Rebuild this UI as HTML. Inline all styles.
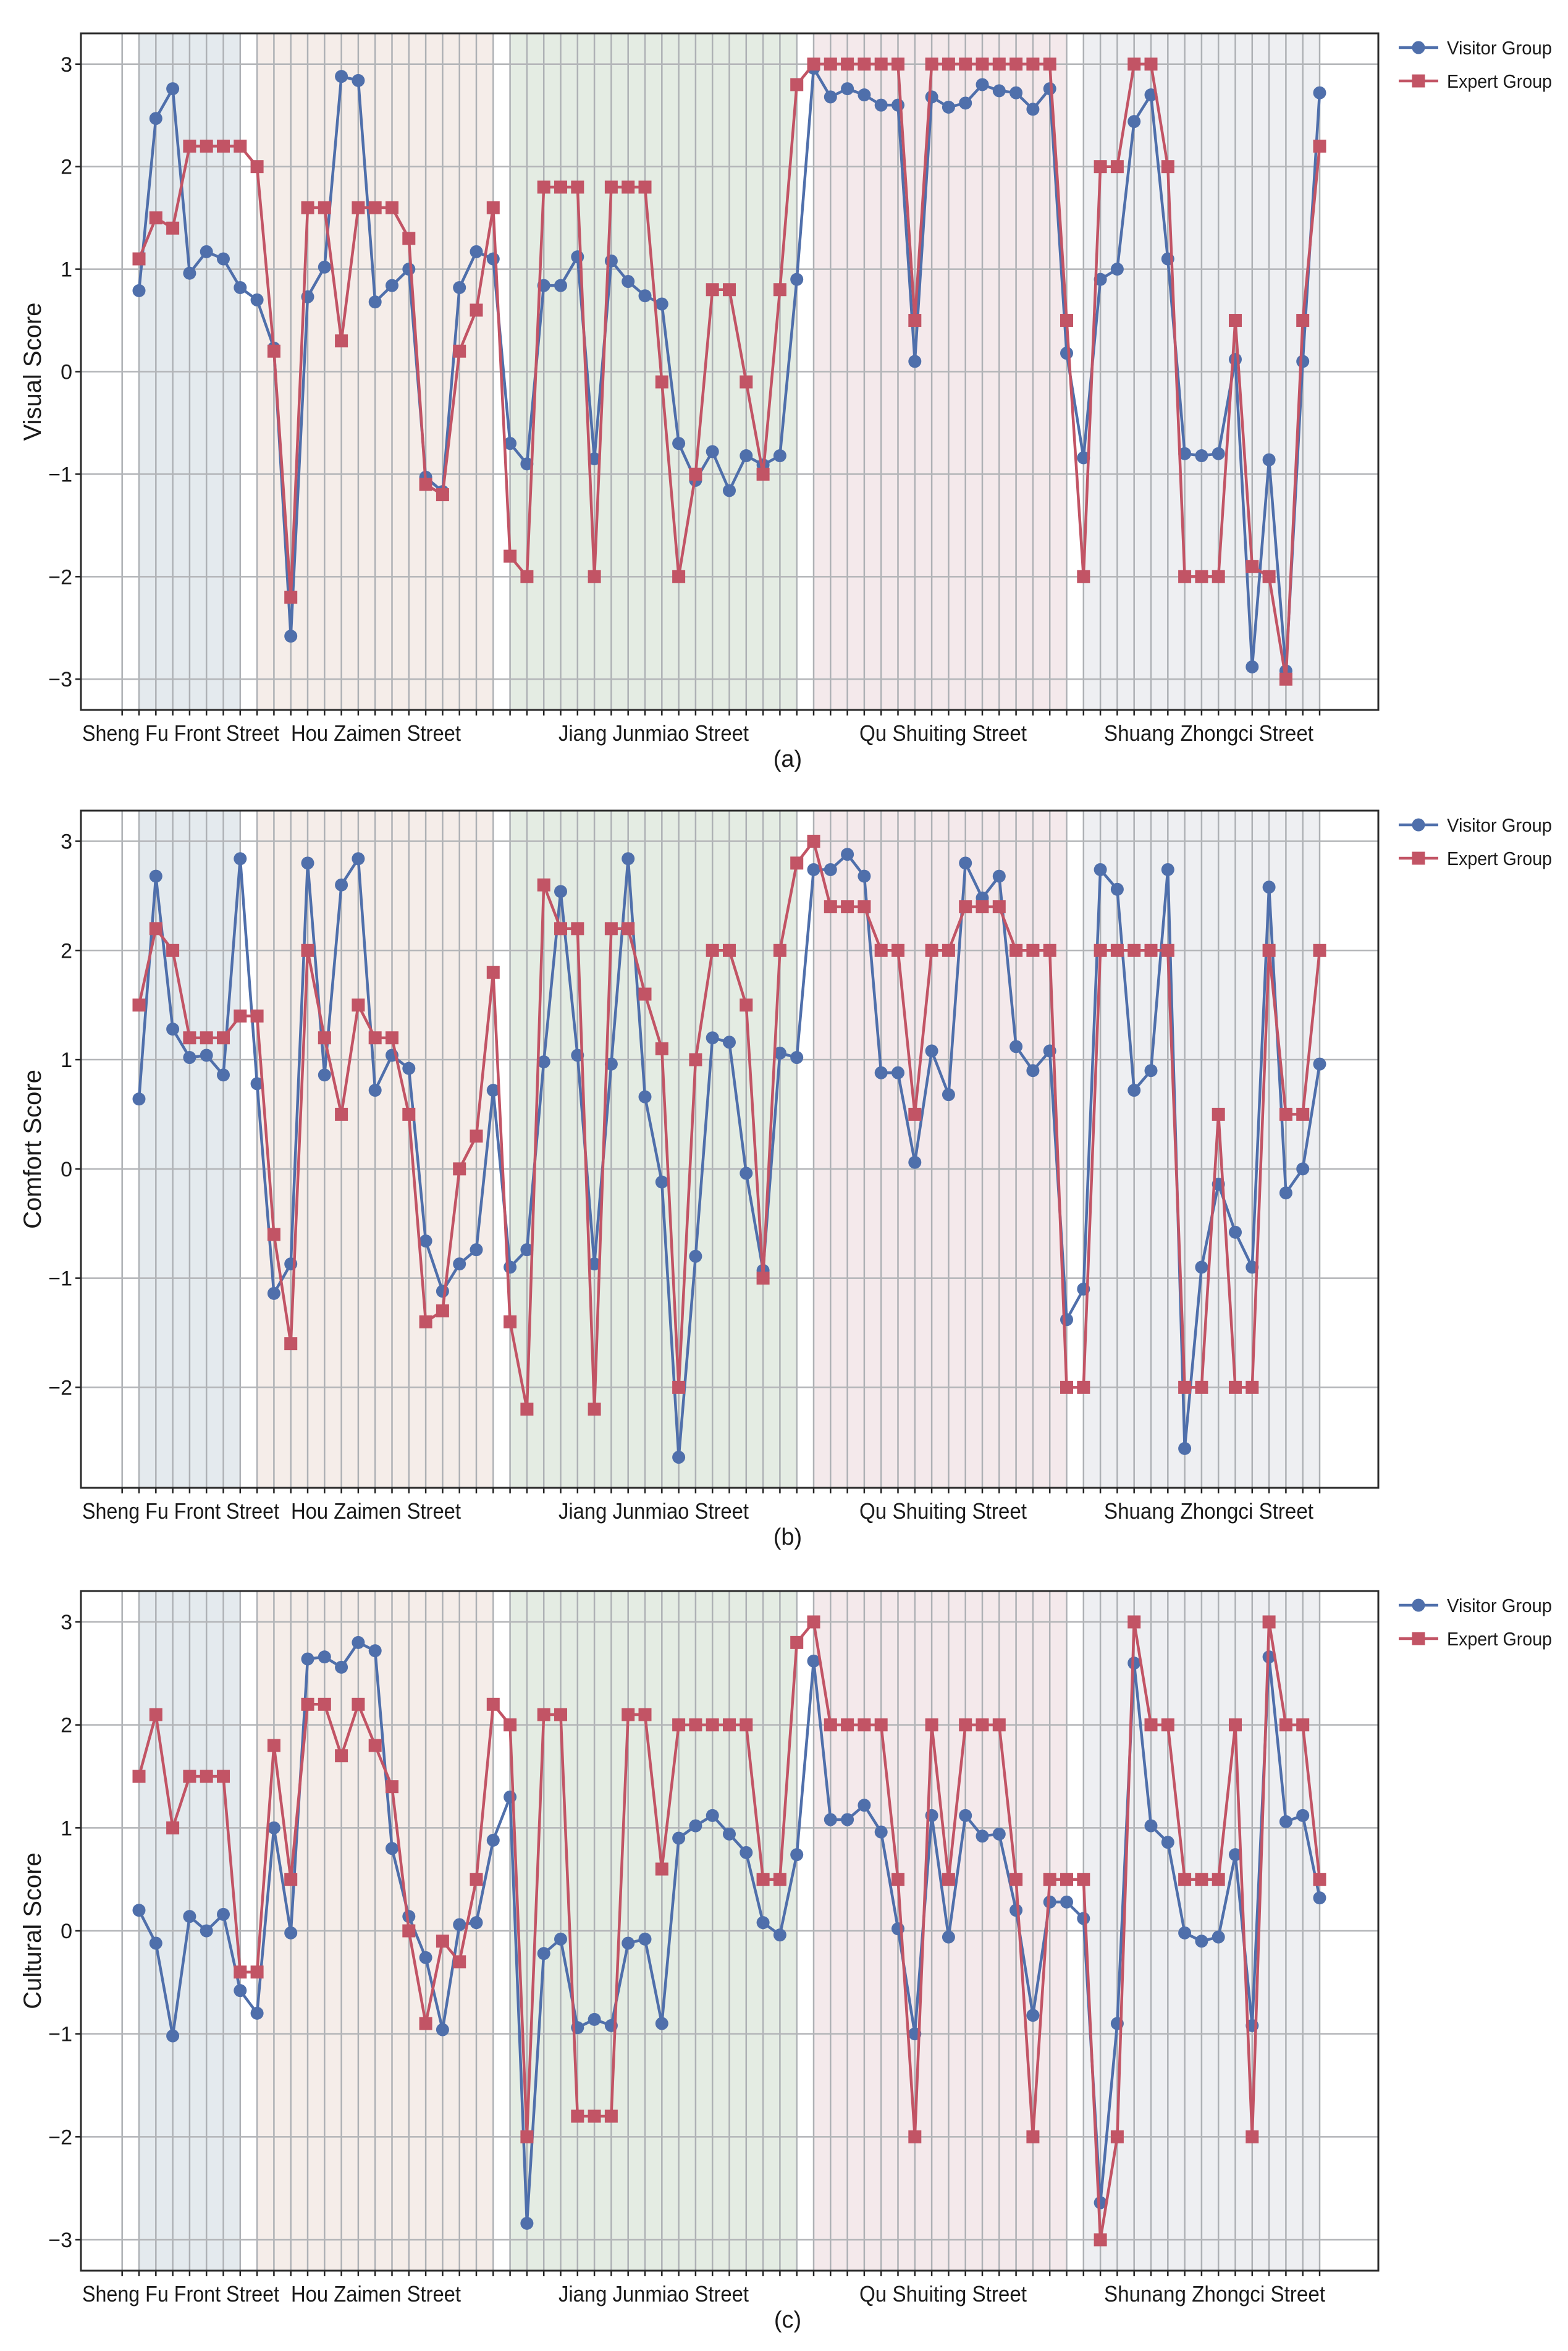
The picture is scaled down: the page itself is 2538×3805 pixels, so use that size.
<!DOCTYPE html>
<html>
<head>
<meta charset="utf-8">
<style>
  html,body{margin:0;padding:0;background:#fff;}
  svg{display:block;}
  text{font-family:"Liberation Sans","DejaVu Sans",sans-serif;fill:#1a1a1a;}
</style>
</head>
<body>
<svg id="chart" xmlns="http://www.w3.org/2000/svg" width="2538" height="3805" viewBox="0 0 2538 3805"></svg>
<script>
// ---- data ----
const streetNames = ["Sheng Fu Front Street","Hou Zaimen Street","Jiang Junmiao Street","Qu Shuiting Street","Shuang Zhongci Street"];
const streetNamesC = ["Sheng Fu Front Street","Hou Zaimen Street","Jiang Junmiao Street","Qu Shuiting Street","Shunang Zhongci Street"];
const streetCounts = [7,15,18,16,15];
const seriesNames = ["Visitor Group","Expert Group"];
const yTicksA = [-3,-2,-1,0,1,2,3];
const yTicksB = [-2,-1,0,1,2,3];
const yTicksC = [-3,-2,-1,0,1,2,3];

const visualVisitor = [0.79,2.47,2.76,0.96,1.17,1.10,0.82, 0.70,0.23,-2.58,0.73,1.02,2.88,2.84,0.68,0.84,1.0,-1.03,-1.17,0.82,1.17,1.10,
 -0.70,-0.90,0.84,0.84,1.12,-0.85,1.08,0.88,0.74,0.66,-0.70,-1.06,-0.78,-1.16,-0.82,-0.91,-0.82,0.90,
 2.96,2.68,2.76,2.70,2.60,2.60,0.10,2.68,2.58,2.62,2.80,2.74,2.72,2.56,2.76,0.18,
 -0.84,0.90,1.0,2.44,2.70,1.10,-0.80,-0.82,-0.80,0.12,-2.88,-0.86,-2.92,0.10,2.72];
const visualExpert = [1.1,1.5,1.4,2.2,2.2,2.2,2.2, 2.0,0.2,-2.2,1.6,1.6,0.3,1.6,1.6,1.6,1.3,-1.1,-1.2,0.2,0.6,1.6,
 -1.8,-2.0,1.8,1.8,1.8,-2.0,1.8,1.8,1.8,-0.1,-2.0,-1.0,0.8,0.8,-0.1,-1.0,0.8,2.8,
 3,3,3,3,3,3,0.5,3,3,3,3,3,3,3,3,0.5,
 -2.0,2.0,2.0,3.0,3.0,2.0,-2.0,-2.0,-2.0,0.5,-1.9,-2.0,-3.0,0.5,2.2];

const comfortVisitor = [0.64,2.68,1.28,1.02,1.04,0.86,2.84, 0.78,-1.14,-0.87,2.80,0.86,2.60,2.84,0.72,1.04,0.92,-0.66,-1.12,-0.87,-0.74,0.72,
 -0.90,-0.74,0.98,2.54,1.04,-0.87,0.96,2.84,0.66,-0.12,-2.64,-0.80,1.20,1.16,-0.04,-0.93,1.06,1.02,
 2.74,2.74,2.88,2.68,0.88,0.88,0.06,1.08,0.68,2.80,2.48,2.68,1.12,0.90,1.08,-1.38,
 -1.10,2.74,2.56,0.72,0.90,2.74,-2.56,-0.90,-0.14,-0.58,-0.90,2.58,-0.22,0.0,0.96];
const comfortExpert = [1.5,2.2,2.0,1.2,1.2,1.2,1.4, 1.4,-0.6,-1.6,2.0,1.2,0.5,1.5,1.2,1.2,0.5,-1.4,-1.3,0.0,0.3,1.8,
 -1.4,-2.2,2.6,2.2,2.2,-2.2,2.2,2.2,1.6,1.1,-2.0,1.0,2.0,2.0,1.5,-1.0,2.0,2.8,
 3.0,2.4,2.4,2.4,2.0,2.0,0.5,2.0,2.0,2.4,2.4,2.4,2.0,2.0,2.0,-2.0,
 -2.0,2.0,2.0,2.0,2.0,2.0,-2.0,-2.0,0.5,-2.0,-2.0,2.0,0.5,0.5,2.0];

const culturalVisitor = [0.20,-0.12,-1.02,0.14,0.0,0.16,-0.58, -0.80,1.0,-0.02,2.64,2.66,2.56,2.80,2.72,0.80,0.14,-0.26,-0.96,0.06,0.08,0.88,
 1.30,-2.84,-0.22,-0.08,-0.94,-0.86,-0.92,-0.12,-0.08,-0.90,0.90,1.02,1.12,0.94,0.76,0.08,-0.04,0.74,
 2.62,1.08,1.08,1.22,0.96,0.02,-1.0,1.12,-0.06,1.12,0.92,0.94,0.20,-0.82,0.28,0.28,
 0.12,-2.64,-0.90,2.60,1.02,0.86,-0.02,-0.10,-0.06,0.74,-0.92,2.66,1.06,1.12,0.32];
const culturalExpert = [1.5,2.1,1.0,1.5,1.5,1.5,-0.4, -0.4,1.8,0.5,2.2,2.2,1.7,2.2,1.8,1.4,0.0,-0.9,-0.1,-0.3,0.5,2.2,
 2.0,-2.0,2.1,2.1,-1.8,-1.8,-1.8,2.1,2.1,0.6,2.0,2.0,2.0,2.0,2.0,0.5,0.5,2.8,
 3.0,2.0,2.0,2.0,2.0,0.5,-2.0,2.0,0.5,2.0,2.0,2.0,0.5,-2.0,0.5,0.5,
 0.5,-3.0,-2.0,3.0,2.0,2.0,0.5,0.5,0.5,2.0,-2.0,3.0,2.0,2.0,0.5];

// ---- layout ----
const NS = "http://www.w3.org/2000/svg";
const svg = document.getElementById("chart");
const PL = 131, PR = 2231;
const X0 = 225, DX = 27.3;
const bandColors = ["#e4eaee","#f5ede9","#e4ece3","#f4e9eb","#eeeff2"];
const labelSpans = [[133,452],[471,746],[904,1212],[1391,1662],[1787,2126]];
const labelSpansC = [[133,452],[471,746],[904,1212],[1391,1662],[1787,2145]];
const BLUE = "#4f6fab", RED = "#c25465";

function xScale(i){ return X0 + DX*i; }
function mk(tag, attrs, parent){
  const e = document.createElementNS(NS, tag);
  for (const k in attrs) e.setAttribute(k, attrs[k]);
  (parent||svg).appendChild(e);
  return e;
}

function panel(cfg){
  const g = mk("g", {});
  
  
  const top = cfg.top, bot = cfg.bottom;
  const yScale = v => top + (cfg.ymax - v)/(cfg.ymax - cfg.ymin)*(bot - top);
  const n = cfg.visitor.length;

  let start = 0;
  streetCounts.forEach((c, k) => {
    const r = mk("rect", {x: xScale(start), y: top, width: xScale(start+c-1)-xScale(start), height: bot-top, fill: bandColors[k]}, g);
    
    
    start += c;
  });
  for (let i = -1; i < n; i++) {
    const x = xScale(i);
    const l = mk("line", {x1:x, x2:x, y1:top, y2:bot, stroke:"#aeb1b5", "stroke-width":2.5}, g);
    
    
    const t = mk("line", {x1:x, x2:x, y1:bot, y2:bot+9, stroke:"#222", "stroke-width":2.5}, g);
    
    
  }
  cfg.yticks.forEach(v => {
    const y = yScale(v);
    const l = mk("line", {x1:PL, x2:PR, y1:y, y2:y, stroke:"#b3b5b8", "stroke-width":2.5}, g);
    
    
    const t = mk("line", {x1:PL-9, x2:PL, y1:y, y2:y, stroke:"#222", "stroke-width":2.5}, g);
    
    
    const tx = mk("text", {x:PL-14, y:y+12, "font-size":34, "text-anchor":"end"}, g);
    tx.textContent = v < 0 ? "\u2212" + Math.abs(v) : String(v);
    
    
  });
  const fr = mk("rect", {x:PL, y:top, width:PR-PL, height:bot-top, fill:"none", stroke:"#2a2a2a", "stroke-width":3}, g);
  
  

  function series(vals, color, shape, sname){
    const sg = mk("g", {}, g);
    
    
    const pts = vals.map((v,i) => xScale(i).toFixed(1) + "," + yScale(v).toFixed(1)).join(" ");
    const pl = mk("polyline", {points: pts, fill:"none", stroke:color, "stroke-width":4.5, "stroke-linejoin":"round"}, sg);
    
    
    vals.forEach((v,i) => {
      let m;
      if (shape === "circle") {
        m = mk("circle", {cx: xScale(i), cy: yScale(v), r: 10.5, fill: color}, sg);
      } else {
        m = mk("rect", {x: xScale(i)-10.5, y: yScale(v)-10.5, width: 21, height: 21, fill: color}, sg);
      }
      
      
    });
  }
  series(cfg.visitor, BLUE, "circle", "visitor-series");
  series(cfg.expert, RED, "square", "expert-series");

  cfg.labels.forEach((s, k) => {
    const sp = cfg.spans[k];
    const t = mk("text", {x: sp[0], y: bot+50, "font-size":36, textLength: sp[1]-sp[0], lengthAdjust:"spacingAndGlyphs"}, g);
    t.textContent = s;
    
    
  });
  const pt = mk("text", {x:1275, y:bot+92, "font-size":38, "text-anchor":"middle"}, g);
  pt.textContent = cfg.letter;
  
  
  const cy = (top+bot)/2;
  const yt = mk("text", {x:0, y:0, "font-size":40, "text-anchor":"middle", transform:"translate(66," + cy + ") rotate(-90)"}, g);
  yt.textContent = cfg.ytitle;
  
  

  const lg = mk("g", {}, g);
  
  
  [[BLUE,"circle",seriesNames[0],top+23],[RED,"square",seriesNames[1],top+77]].forEach(e => {
    const eg = mk("g", {}, lg);
    
    
    mk("line", {x1:2264, x2:2328, y1:e[3], y2:e[3], stroke:e[0], "stroke-width":4.5}, eg);
    if (e[1]==="circle") mk("circle", {cx:2296, cy:e[3], r:10.5, fill:e[0]}, eg);
    else mk("rect", {x:2285.5, y:e[3]-10.5, width:21, height:21, fill:e[0]}, eg);
    const t = mk("text", {x:2342, y:e[3]+11, "font-size":31, textLength:170, lengthAdjust:"spacingAndGlyphs"}, eg);
    t.textContent = e[2];
  });
}

panel({name:"visual-score-panel", top:54, bottom:1149, ymin:-3.3, ymax:3.3, yticks:yTicksA,
  visitor:visualVisitor, expert:visualExpert, labels:streetNames, spans:labelSpans, letter:"(a)", ytitle:"Visual Score"});
panel({name:"comfort-score-panel", top:1312, bottom:2408, ymin:-2.92, ymax:3.28, yticks:yTicksB,
  visitor:comfortVisitor, expert:comfortExpert, labels:streetNames, spans:labelSpans, letter:"(b)", ytitle:"Comfort Score"});
panel({name:"cultural-score-panel", top:2575, bottom:3675, ymin:-3.3, ymax:3.3, yticks:yTicksC,
  visitor:culturalVisitor, expert:culturalExpert, labels:streetNamesC, spans:labelSpansC, letter:"(c)", ytitle:"Cultural Score"});
</script>
</body>
</html>
